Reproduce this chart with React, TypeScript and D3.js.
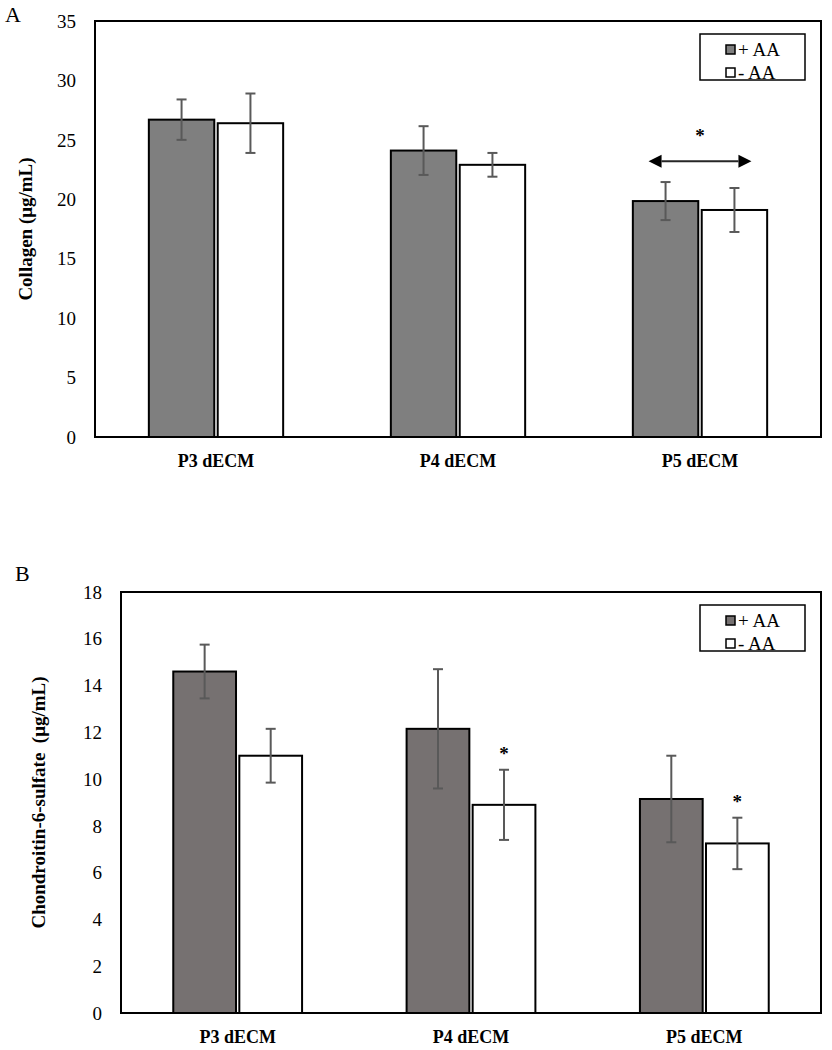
import React from "react";
import * as d3 from "d3";

const categories = ["P3 dECM", "P4 dECM", "P5 dECM"];
const seriesNames = ["+ AA", "- AA"];

const collagenPlus = [26.7, 24.1, 19.85];
const collagenPlusErr = [1.7, 2.05, 1.6];
const collagenMinus = [26.4, 22.9, 19.1];
const collagenMinusErr = [2.5, 1.0, 1.85];
const collagenTicks = [0, 5, 10, 15, 20, 25, 30, 35];

const csPlus = [14.6, 12.15, 9.15];
const csPlusErr = [1.15, 2.55, 1.85];
const csMinus = [11.0, 8.9, 7.25];
const csMinusErr = [1.15, 1.5, 1.1];
const csTicks = [0, 2, 4, 6, 8, 10, 12, 14, 16, 18];
const csStars = [false, true, true];

const FONT = "'Liberation Serif', 'Times New Roman', serif";

type PanelProps = {
  letter: string;
  letterX: number;
  letterY: number;
  left: number;
  top: number;
  right: number;
  bottom: number;
  max: number;
  ticks: number[];
  plus: number[];
  plusErr: number[];
  minus: number[];
  minusErr: number[];
  gray: string;
  title: string;
  titleX: number;
  pairFrac: number;
  stars?: boolean[];
  arrow?: { cat: number; value: number; starValue: number };
};

function Panel(p: PanelProps) {
  const x0 = d3.scaleBand<string>().domain(categories).range([p.left, p.right]).padding(0);
  const bw = x0.bandwidth();
  const x1 = d3
    .scaleBand<string>()
    .domain(seriesNames)
    .range([bw * (0.5 - p.pairFrac / 2), bw * (0.5 + p.pairFrac / 2)])
    .paddingInner(0.05)
    .paddingOuter(0);
  const y = d3.scaleLinear().domain([0, p.max]).range([p.bottom, p.top]);
  const values = [p.plus, p.minus];
  const errs = [p.plusErr, p.minusErr];
  const fills = [p.gray, "#ffffff"];
  const legX = p.right - 121;
  const legY = p.top + 13;
  return (
    <g>
      <text x={p.letterX} y={p.letterY} fontFamily={FONT} fontSize={22}>
        {p.letter}
      </text>
      {/* bars */}
      {categories.map((c, ci) =>
        seriesNames.map((s, si) => (
          <rect
            key={c + s}
            x={(x0(c) as number) + (x1(s) as number)}
            y={y(values[si][ci])}
            width={x1.bandwidth()}
            height={p.bottom - y(values[si][ci])}
            fill={fills[si]}
            stroke="#000"
            strokeWidth={2}
          />
        ))
      )}
      {/* error bars */}
      {categories.map((c, ci) =>
        seriesNames.map((s, si) => {
          const cx = (x0(c) as number) + (x1(s) as number) + x1.bandwidth() / 2;
          const v = values[si][ci];
          const e = errs[si][ci];
          return (
            <g key={"e" + c + s} stroke="#595959" strokeWidth={2}>
              <line x1={cx} x2={cx} y1={y(v - e)} y2={y(v + e)} />
              <line x1={cx - 5} x2={cx + 5} y1={y(v - e)} y2={y(v - e)} />
              <line x1={cx - 5} x2={cx + 5} y1={y(v + e)} y2={y(v + e)} />
            </g>
          );
        })
      )}
      {/* frame */}
      <rect
        x={p.left}
        y={p.top}
        width={p.right - p.left}
        height={p.bottom - p.top}
        fill="none"
        stroke="#000"
        strokeWidth={2}
      />
      {/* y ticks */}
      {p.ticks.map((t) => (
        <text
          key={t}
          x={p.left - 19}
          y={y(t)}
          dy="0.35em"
          textAnchor="end"
          fontFamily={FONT}
          fontSize={19}
        >
          {t}
        </text>
      ))}
      {/* x labels */}
      {categories.map((c) => (
        <text
          key={c}
          x={(x0(c) as number) + bw / 2}
          y={p.bottom + 30}
          textAnchor="middle"
          fontFamily={FONT}
          fontSize={18}
          fontWeight="bold"
        >
          {c}
        </text>
      ))}
      {/* y title */}
      <text
        transform={`translate(${p.titleX},${(p.top + p.bottom) / 2}) rotate(-90)`}
        textAnchor="middle"
        fontFamily={FONT}
        fontSize={19}
        fontWeight="bold"
        style={{ whiteSpace: "pre" }}
      >
        {p.title}
      </text>
      {/* stars above minus bars */}
      {p.stars &&
        categories.map((c, ci) => {
          if (!p.stars![ci]) return null;
          const cx = (x0(c) as number) + (x1("- AA") as number) + x1.bandwidth() / 2;
          const top = p.minus[ci] + p.minusErr[ci];
          return (
            <text
              key={"s" + c}
              x={cx}
              y={y(top) - 10}
              textAnchor="middle"
              fontFamily={FONT}
              fontSize={19}
              fontWeight="bold"
            >
              *
            </text>
          );
        })}
      {/* arrow */}
      {p.arrow &&
        (() => {
          const c = categories[p.arrow!.cat];
          const xa = (x0(c) as number) + (x1("+ AA") as number) + x1.bandwidth() / 2;
          const xb = (x0(c) as number) + (x1("- AA") as number) + x1.bandwidth() / 2;
          const ya = y(p.arrow!.value);
          return (
            <g>
              <line x1={xa - 4} x2={xb + 4} y1={ya} y2={ya} stroke="#262626" strokeWidth={2} />
              <path d={`M${xa - 17},${ya} L${xa - 4},${ya - 6.5} L${xa - 4},${ya + 6.5} Z`} fill="#000" />
              <path d={`M${xb + 17},${ya} L${xb + 4},${ya - 6.5} L${xb + 4},${ya + 6.5} Z`} fill="#000" />
              <text
                x={(xa + xb) / 2}
                y={y(p.arrow!.starValue)}
                dy="0.7em"
                textAnchor="middle"
                fontFamily={FONT}
                fontSize={19}
                fontWeight="bold"
              >
                *
              </text>
            </g>
          );
        })()}
      {/* legend */}
      <rect x={legX} y={legY} width={105} height={46} fill="#fff" stroke="#000" strokeWidth={1.5} />
      {seriesNames.map((s, si) => (
        <g key={"l" + s}>
          <rect
            x={legX + 26}
            y={legY + 12 + si * 23 - 1}
            width={9}
            height={9}
            fill={fills[si]}
            stroke="#000"
            strokeWidth={1.5}
          />
          <text x={legX + 38} y={legY + 22 + si * 23} fontFamily={FONT} fontSize={19}>
            {s}
          </text>
        </g>
      ))}
    </g>
  );
}

export default function App() {
  return (
    <svg
      width={832}
      height={1050}
      style={{ position: "absolute", left: 0, top: 0, background: "#fff" }}
    >
      <rect x={0} y={0} width={832} height={1050} fill="#fff" />
      <Panel
        letter="A"
        letterX={5}
        letterY={22}
        left={95}
        top={21}
        right={821}
        bottom={437}
        max={35}
        ticks={collagenTicks}
        plus={collagenPlus}
        plusErr={collagenPlusErr}
        minus={collagenMinus}
        minusErr={collagenMinusErr}
        gray="#7f7f7f"
        title="Collagen (μg/mL)"
        titleX={32}
        pairFrac={0.555}
        arrow={{ cat: 2, value: 23.2, starValue: 25.9 }}
      />
      <Panel
        letter="B"
        letterX={15}
        letterY={581}
        left={121}
        top={592}
        right={821}
        bottom={1013}
        max={18}
        ticks={csTicks}
        plus={csPlus}
        plusErr={csPlusErr}
        minus={csMinus}
        minusErr={csMinusErr}
        gray="#767171"
        title="Chondroitin-6-sulfate  (μg/mL)"
        titleX={45}
        pairFrac={0.552}
        stars={csStars}
      />
    </svg>
  );
}
